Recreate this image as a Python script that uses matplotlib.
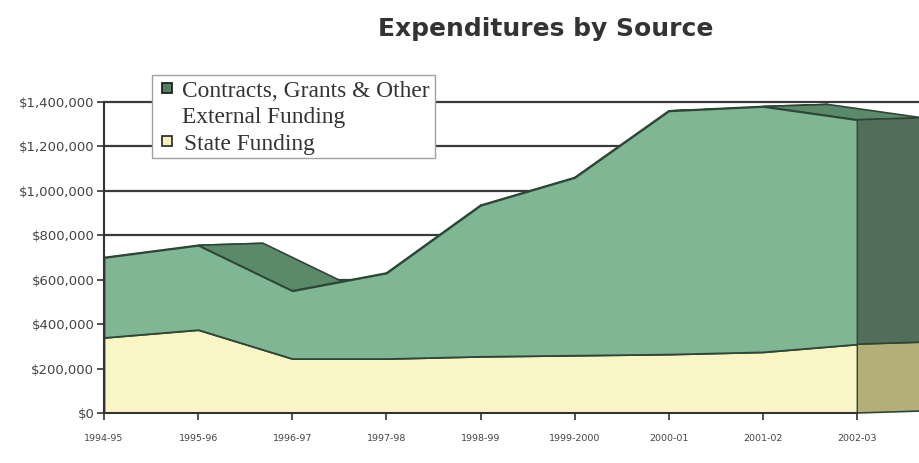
import numpy as np
import matplotlib.pyplot as plt
from matplotlib.patches import Polygon, Rectangle
from matplotlib.ticker import FuncFormatter

# values
years = ["1994-95", "1995-96", "1996-97", "1997-98", "1998-99",
         "1999-2000", "2000-01", "2001-02", "2002-03"]
state = [340000, 375000, 245000, 245000, 255000, 260000, 265000, 275000, 310000]
contracts = [360000, 380000, 305000, 385000, 680000, 800000, 1095000, 1105000, 1010000]
yticks = [0, 200000, 400000, 600000, 800000, 1000000, 1200000, 1400000]

W, H = 919, 463
fig = plt.figure(figsize=(W / 100, H / 100), dpi=100)
fig.patch.set_facecolor("white")
ax = fig.add_axes([104 / W, 50 / H, 753 / W, 311 / H])

x = np.arange(len(years))
lo = np.array(state, dtype=float)
hi = lo + np.array(contracts, dtype=float)
ax.set_xlim(0, len(years) - 1)
ax.set_ylim(0, yticks[-1])

depth = np.array([65, 2])  # pixel offset of the back plane
edge = "#2f4637"


def back(px, py):
    d = ax.transData.transform(np.column_stack([px, py])) + depth
    return ax.transData.inverted().transform(d)


# back wall gridlines
xb = back([x[-1]], [0])[0][0]
ax.hlines(yticks[1:], 0, xb, colors="#3a3a3a", lw=1.6, zorder=1, clip_on=False)

layers = [
    (np.zeros_like(lo), lo, "#f9f5c4", "#d6d197", "#b4af78"),
    (lo, hi, "#7fb693", "#5b8a6b", "#506e5a"),
]

# top faces
for bot, top, front_c, top_c, side_c in layers:
    for i in range(len(x) - 1):
        f = np.array([[x[i], top[i]], [x[i + 1], top[i + 1]]])
        b = back(f[:, 0], f[:, 1])
        ax.add_patch(Polygon(np.vstack([f, b[::-1]]), closed=True, fc=top_c,
                             ec=edge, lw=1.2, clip_on=False, zorder=2))

# right side faces
for bot, top, front_c, top_c, side_c in layers:
    f = np.array([[x[-1], bot[-1]], [x[-1], top[-1]]])
    b = back(f[:, 0], f[:, 1])
    ax.add_patch(Polygon(np.vstack([f, b[::-1]]), closed=True, fc=side_c,
                         ec=edge, lw=1.2, clip_on=False, zorder=3))

# front faces
for bot, top, front_c, top_c, side_c in layers:
    ax.fill_between(x, bot, top, facecolor=front_c, edgecolor=edge, lw=1.3, zorder=4)

ax.set_xticks(x)
ax.set_xticklabels(years)
ax.set_yticks(yticks)
ax.yaxis.set_major_formatter(FuncFormatter(lambda v, p: "${:,.0f}".format(v)))
ax.tick_params(axis="y", length=5, width=1.2, pad=2, labelsize=9.5,
               labelcolor="#444", color="#333")
ax.tick_params(axis="x", length=5, width=1.2, pad=10, labelsize=6.8,
               labelcolor="#444", color="#333")
for s in ["top", "right"]:
    ax.spines[s].set_visible(False)
for s in ["left", "bottom"]:
    ax.spines[s].set_color("#333")
    ax.spines[s].set_linewidth(1.5)
    ax.spines[s].set_zorder(6)
ax.set_facecolor("none")

fig.text(546 / W, 1 - 29 / H, "Expenditures by Source", ha="center", va="center",
         fontsize=18, fontweight="bold", color="#333", family="DejaVu Sans")

# legend box
fig.add_artist(Rectangle((152 / W, 1 - 158 / H), 283 / W, 83 / H,
                         transform=fig.transFigure, fc="white", ec="#a0a0a0",
                         lw=1, zorder=10))
fig.add_artist(Rectangle((162 / W, 1 - 93 / H), 10 / W, 10 / H,
                         transform=fig.transFigure, fc="#567f60", ec="#222",
                         lw=1.3, zorder=11))
fig.add_artist(Rectangle((162 / W, 1 - 146 / H), 10 / W, 10 / H,
                         transform=fig.transFigure, fc="#f3efbe", ec="#333",
                         lw=1.3, zorder=11))
lt = dict(family="Liberation Serif", fontsize=16.8, color="#333", va="baseline", zorder=12)
fig.text(182 / W, 1 - 97 / H, "Contracts, Grants & Other", **lt)
fig.text(182 / W, 1 - 123 / H, "External Funding", **lt)
fig.text(184 / W, 1 - 150 / H, "State Funding", **lt)

fig.savefig("out.png", dpi=100)
